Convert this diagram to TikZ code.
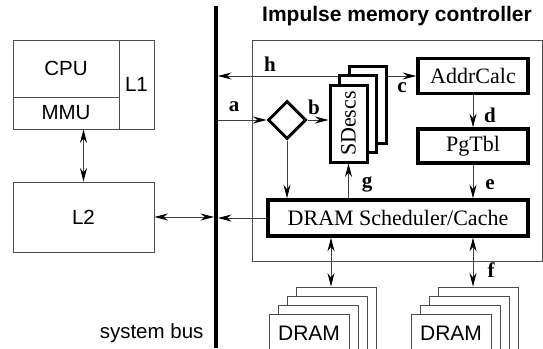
\documentclass[tikz,border=0pt]{standalone}
\usepackage{fontspec}
\setmainfont{Liberation Serif}
\setsansfont{Liberation Sans}
\usetikzlibrary{shapes.geometric,arrows.meta,calc}
\begin{document}
\begin{tikzpicture}[x=1pt,y=-1pt,
  sf/.style={font=\fontsize{20.5}{24}\selectfont\sffamily},
  rm/.style={font=\fontsize{22}{26}\selectfont},
  lab/.style={font=\fontsize{21}{24}\selectfont\bfseries},
  gbox/.style={draw=black!70, line width=0.9pt, rectangle, inner sep=0pt, fill=white},
  kbox/.style={draw=black, line width=3.5pt, rectangle, inner sep=0pt, fill=white},
  sdcard/.style={draw=black, line width=3pt, rectangle, inner sep=0pt, fill=white, minimum width=37, minimum height=77},
  dcard/.style={draw=black!70, line width=0.9pt, rectangle, inner sep=0pt, fill=white, minimum width=80, minimum height=70},
  arr/.style={draw=black!75, line width=0.9pt, -{Stealth[length=13.5pt,width=7pt,color=black]}},
  dbl/.style={draw=black!75, line width=0.9pt, {Stealth[length=13.5pt,width=7pt,color=black]}-{Stealth[length=13.5pt,width=7pt,color=black]}},
]
\useasboundingbox (0,0) rectangle (543,348);
\clip (0,0) rectangle (543,348);
\fill[white] (0,0) rectangle (543,348);

% left side
\node[gbox, minimum width=106, minimum height=57, sf] (cpu) at (66,68.5) {\raisebox{-4pt}{CPU}};
\node[gbox, minimum width=106, minimum height=32, sf] (mmu) at (66,113) {\raisebox{-1.5pt}{MMU}};
\node[gbox, minimum width=35, minimum height=89, sf] (l1) at (136.5,84.5) {L1};
\node[gbox, minimum width=141, minimum height=70, sf] (l2) at (83.5,217) {L2};
\draw[dbl] (l2.north) -- (l2.north |- mmu.south);

% bus
\coordinate (bt) at (216,6);
\coordinate (bb) at (216,348);
\draw[line width=4pt] (bt) -- (bb);
\coordinate (busL) at (214,217);
\coordinate (busH) at (218,76);
\coordinate (busA) at (218,120);
\coordinate (busS) at (218,218);
\draw[dbl] (l2.east) -- (busL);
\node[sf, anchor=east] (sb) at (207,333) {system bus};

% controller
\node[font=\fontsize{21}{24}\selectfont\sffamily\bfseries] (title) at (397,16) {Impulse memory controller};
\node[gbox, fill=none, minimum width=290, minimum height=221] (ctrl) at (397,150.5) {};

\node[kbox, minimum width=110, minimum height=35, rm] (addr) at (473,76) {AddrCalc};
\node[kbox, minimum width=110, minimum height=34, rm] (pg) at (473,146) {PgTbl};
\node[kbox, minimum width=260, minimum height=36, rm] (sched) at (398,218) {DRAM Scheduler/Cache};
\node[diamond, draw, line width=3pt, fill=white, inner sep=0pt, minimum width=38, minimum height=38] (dia) at (287,120) {};

% h / c line (behind SDescs)
\coordinate (sdhub) at (360,76);
\draw[arr] (sdhub) -- (busH);
\draw[arr] (sdhub) -- (addr.west);

% SDescs stack
\node[sdcard] (sd3) at (367.5,104.5) {};
\node[sdcard] (sd2) at (358,114) {};
\node[sdcard, rm] (sd1) at (348.5,123.5) {\rotatebox{90}{SDescs}};

% connectors
\draw[arr] (busA) -- (dia.west);
\draw[arr] (dia.east) -- (dia.east -| sd1.west);
\draw[arr] (dia.south) -- (dia.south |- sched.north);
\draw[arr] (sched.north -| sd1.south) -- (sd1.south);
\draw[arr] (addr.south) -- (pg.north);
\draw[arr] (pg.south) -- (pg.south |- sched.north);
\draw[arr] (sched.west) -- (busS);

% labels
\node[lab] (lh) at (270,64) {h};
\node[lab] (lc) at (402,88) {c};
\node[lab] (la) at (234,107) {a};
\node[lab] (lb) at (314,107) {b};
\node[lab] (ld) at (490,115) {d};
\node[lab] (le) at (490,185) {e};
\node[lab] (lg) at (367,184) {g};
\node[lab] (lf) at (491,270) {f};

% DRAM stacks
\foreach \i in {3,2,1,0} {
  \node[dcard] (dA\i) at (309+9*\i,349-9*\i) {};
  \node[dcard] (dB\i) at (451+9*\i,349-9*\i) {};
}
\node[font=\fontsize{21}{24}\selectfont\sffamily] (tA) at (309,333) {DRAM};
\node[font=\fontsize{21}{24}\selectfont\sffamily] (tB) at (451,333) {DRAM};

\coordinate (xa) at (331,0);
\coordinate (xb) at (473,0);
\draw[dbl] (sched.south -| xa) -- (dA3.north -| xa);
\draw[dbl] (sched.south -| xb) -- (dB3.north -| xb);
\end{tikzpicture}
\end{document}
